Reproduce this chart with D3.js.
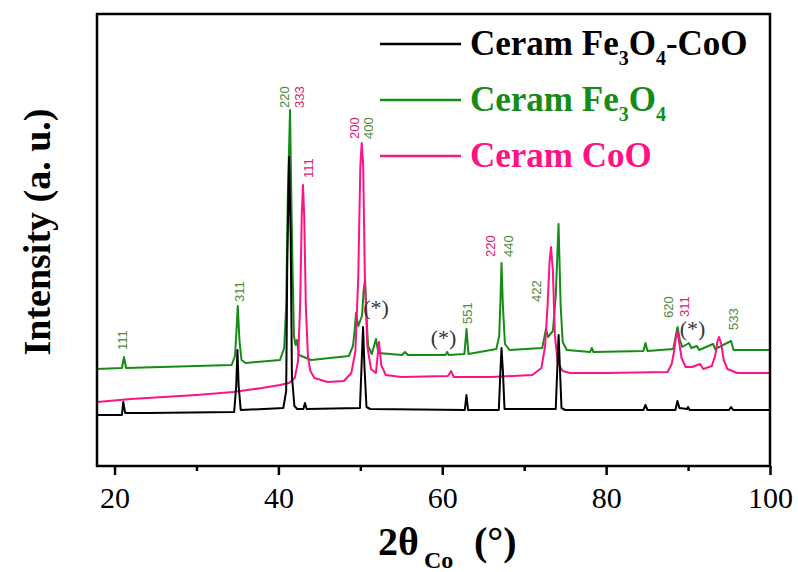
<!DOCTYPE html>
<html>
<head>
<meta charset="utf-8">
<script src="https://cdn.jsdelivr.net/npm/d3@7"></script>
<style>
  html, body { margin: 0; padding: 0; background: #fff; }
  svg { display: block; }
</style>
</head>
<body>
<div id="chart"></div>
<script>
// 2theta (deg), intensity (a.u.)
const ceramFe3O4CoO = [
  [17.86,51],[20.9,51],[21.06,64],[21.3,53],[24,53],[34.6,54],[34.85,80],[35.0,116],[35.15,80],[35.4,56],
  [40.6,58],[40.95,75],[41.08,200],[41.3,309],[41.5,230],[41.65,90],[41.95,60],[42.3,57],[43.05,57],[43.24,63],[43.45,57],
  [49.95,58],[50.15,100],[50.33,139],[50.5,100],[50.75,59],[51.2,57],[62.75,56],[62.95,71],[63.15,56],
  [66.9,56],[67.1,95],[67.23,118],[67.4,95],[67.6,57],[73.85,57],[74.05,100],[74.2,131],[74.35,100],[74.55,58],[75,56],
  [84.55,56],[84.8,61],[85.05,56],[88.45,56],[88.7,65],[88.95,58],[89.9,57],[90.0,59],[90.2,56],
  [95.0,56],[95.25,59],[95.5,56],[100,56]
];

const ceramFe3O4 = [
  [17.86,97],[20.9,98],[21.16,109],[21.4,98],[34.3,101],[34.7,110],[34.85,130],[35.04,160],[35.25,125],[35.5,106],[36,103],
  [40.2,106],[40.7,118],[40.95,160],[41.15,270],[41.42,356],[41.65,230],[41.9,130],[42.1,121],[42.27,126],[42.5,111],
  [44,106],[48.6,110],[49.1,120],[49.3,135],[49.47,153],[49.75,140],[50.2,150],[50.4,175],[50.57,186],[50.75,150],[50.95,120],[51.4,112],
  [51.91,127],[52.2,113],[55.1,111],[55.45,114],[55.8,111],[60.4,111],[60.6,114],[60.8,111],
  [62.7,112],[62.96,137],[63.2,112],[66.6,117],[66.95,130],[67.1,165],[67.23,203],[67.4,160],[67.65,122],[68.2,116],
  [72.2,118],[72.66,137],[72.9,129],[73.5,135],[73.85,170],[74.19,242],[74.45,160],[74.7,124],[75.2,116],[78.05,114],[78.24,118],[78.45,114],
  [84.55,115],[84.8,123],[85.05,115],[88.2,117],[88.45,128],[88.71,139],[89.0,126],[89.3,119],[90.11,123],[90.4,118],[91.09,120],[91.35,116],
  [93.05,122],[93.3,117],[95.25,125],[95.55,116],[100,116]
];

const ceramCoO = [
  [17.86,64],[22,67],[26,69],[30,71],[34.5,74],[38,78],[40.2,81],[41.3,83],[42.0,88],[42.4,105],[42.65,160],[42.85,250],
  [43.0,281],[43.15,250],[43.35,160],[43.6,110],[43.9,95],[44.4,88],[46,84],[48,85],[48.9,93],[49.4,115],[49.75,190],[50.0,300],
  [50.17,323],[50.35,300],[50.55,190],[50.85,120],[51.3,97],[51.9,93],[52.28,124],[52.55,101],[53.1,91],[55,89],
  [60.7,90],[61.07,95],[61.4,89],[66,89],[71,91],[72.1,98],[72.55,120],[72.85,160],[73.1,205],[73.27,219],[73.5,195],
  [73.75,130],[74.1,103],[74.7,95],[75.6,93],[80,93],[87.5,94],[88.0,102],[88.3,115],[88.5,128],[88.71,134],[88.95,122],[89.2,108],[89.7,99],
  [90.5,99],[91.46,102],[91.85,97],[92.9,100],[93.3,110],[93.6,125],[93.78,129],[94.05,122],[94.35,106],[94.8,97],[96,93],[100,93]
];

// peak indexing: [label, 2theta, intensity at label foot, phase]
const peakLabels = [
  ["111", 21.0, 116, "fe"], ["311", 35.23, 164, "fe"], ["220", 40.69, 358, "fe"], ["333", 42.55, 358, "co"],
  ["111", 43.61, 288, "co"], ["200", 49.23, 327, "co"], ["400", 50.94, 327, "fe"], ["551", 63.11, 142, "fe"],
  ["220", 65.91, 209, "co"], ["440", 68.02, 209, "fe"], ["422", 71.53, 164, "fe"], ["620", 87.55, 148, "fe"],
  ["311", 89.5, 149, "co"], ["533", 95.48, 136, "fe"]
];

// unidentified reflections (*)
const starMarks = [[51.91, 151], [60.15, 121], [90.54, 130]];

const xMajorTicks = [20, 40, 60, 80, 100];
const xMinorTicks = [30, 50, 70, 90];

(() => {
  const width = 798;
  const height = 572;
  const margin = { top: 14, right: 28, bottom: 106, left: 97 };

  const green = "#168c16";
  const pink = "#ff1286";

  const svg = d3.select("#chart")
    .append("svg")
    .attr("width", width)
    .attr("height", height);

  const x = d3.scaleLinear()
    .domain([17.86, 100])
    .range([margin.left, width - margin.right]);

  const y = d3.scaleLinear()
    .domain([0, 452])
    .range([height - margin.bottom, margin.top]);

  const line = d3.line()
    .x(d => x(d[0]))
    .y(d => y(d[1]));

  // green first, then pink, black on top
  const series = [
    { data: ceramFe3O4, color: green },
    { data: ceramCoO, color: pink },
    { data: ceramFe3O4CoO, color: "#000" }
  ];

  svg.append("g")
    .selectAll("path")
    .data(series)
    .join("path")
    .attr("d", d => line(d.data))
    .attr("fill", "none")
    .attr("stroke", d => d.color)
    .attr("stroke-width", 2)
    .attr("stroke-linejoin", "round");

  // hkl labels
  svg.append("g")
    .selectAll("text")
    .data(peakLabels)
    .join("text")
    .attr("transform", d => `translate(${x(d[1])},${y(d[2])}) rotate(-90)`)
    .attr("dy", "0.35em")
    .attr("fill", d => d[3] === "fe" ? "#4f8a38" : "#d8246c")
    .style("font", "13px 'Liberation Sans', Arial, sans-serif")
    .text(d => d[0]);

  svg.append("g")
    .selectAll("text")
    .data(starMarks)
    .join("text")
    .attr("x", d => x(d[0]))
    .attr("y", d => y(d[1]))
    .attr("text-anchor", "middle")
    .attr("fill", "#333")
    .style("font", "22px 'Liberation Serif', 'Times New Roman', serif")
    .text("(*)");

  // frame
  svg.append("rect")
    .attr("x", margin.left)
    .attr("y", margin.top)
    .attr("width", width - margin.left - margin.right)
    .attr("height", height - margin.top - margin.bottom)
    .attr("fill", "none")
    .attr("stroke", "#000")
    .attr("stroke-width", 2.5);

  const axisY = height - margin.bottom;

  svg.append("g")
    .attr("transform", `translate(0,${axisY})`)
    .call(d3.axisBottom(x).tickValues(xMinorTicks).tickSize(5).tickFormat(""))
    .call(g => g.select(".domain").remove())
    .call(g => g.selectAll("line").attr("stroke-width", 2.5));

  svg.append("g")
    .attr("transform", `translate(0,${axisY})`)
    .call(d3.axisBottom(x).tickValues(xMajorTicks).tickSize(9).tickFormat(d3.format("d")))
    .call(g => g.select(".domain").remove())
    .call(g => g.selectAll("line").attr("stroke-width", 2.5))
    .call(g => g.selectAll("text")
      .attr("y", 42)
      .attr("dy", null)
      .attr("fill", "#000")
      .style("font", "30px 'Liberation Serif', 'Times New Roman', serif"));

  // axis titles
  const xTitle = svg.append("text")
    .attr("y", 555)
    .attr("fill", "#000")
    .style("font-family", "'Liberation Serif', 'Times New Roman', serif")
    .style("font-weight", "bold");
  xTitle.append("tspan").attr("x", 378).style("font-size", "40px").text("2θ");
  xTitle.append("tspan").attr("x", 424).attr("dy", 13).style("font-size", "24px").text("Co");
  xTitle.append("tspan").attr("x", 474).attr("dy", -13).style("font-size", "40px").text("(°)");

  svg.append("text")
    .attr("transform", "translate(50,232) rotate(-90)")
    .attr("text-anchor", "middle")
    .attr("fill", "#000")
    .style("font", "bold 38px 'Liberation Serif', 'Times New Roman', serif")
    .text("Intensity (a. u.)");

  // legend
  const legendItems = [
    { parts: [["Ceram Fe", 0], ["3", 1], ["O", 0], ["4", 1], ["-CoO", 0]], color: "#000" },
    { parts: [["Ceram Fe", 0], ["3", 1], ["O", 0], ["4", 1]], color: green },
    { parts: [["Ceram CoO", 0]], color: pink }
  ];

  const legend = svg.append("g");
  const legendRows = [44, 100, 156];

  legendItems.forEach((item, i) => {
    const ly = legendRows[i];
    legend.append("line")
      .attr("x1", 380).attr("x2", 461)
      .attr("y1", ly).attr("y2", ly)
      .attr("stroke", item.color)
      .attr("stroke-width", 2.5);

    const t = legend.append("text")
      .attr("x", 470)
      .attr("y", ly + 11)
      .attr("fill", item.color)
      .style("font-family", "'Liberation Serif', 'Times New Roman', serif")
      .style("font-weight", "bold");

    let sub = 0;
    item.parts.forEach(([s, isSub]) => {
      const shift = isSub - sub;
      t.append("tspan")
        .attr("dy", shift * 10)
        .style("font-size", isSub ? "20px" : "35px")
        .text(s);
      sub = isSub;
    });
  });
})();
</script>
</body>
</html>
